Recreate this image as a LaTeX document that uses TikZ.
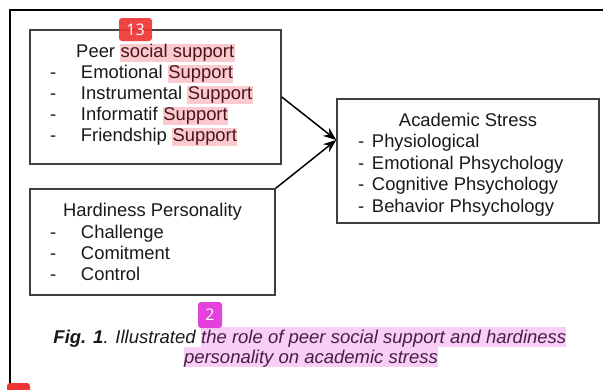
\documentclass[tikz,border=0pt]{standalone}
\usepackage{fontspec}
\setmainfont{Liberation Sans}
\newfontfamily\badgefont{Open Sans}
\usepackage{xcolor}
\usepackage{array}
\usetikzlibrary{arrows.meta, positioning, calc}

\definecolor{hlpink}{RGB}{250,202,206}
\definecolor{hlmag}{RGB}{248,206,247}
\definecolor{hlredtext}{RGB}{75,20,25}
\definecolor{hlmagtext}{RGB}{70,30,70}
\definecolor{badgered}{RGB}{240,52,52}
\definecolor{badgemag}{RGB}{228,64,220}

\newcommand{\hlsup}[1]{{\setlength{\fboxsep}{0.5pt}\colorbox{hlpink}{\textcolor{hlredtext}{#1}}}}
\newcommand{\shiftbox}[2]{\raisebox{#1}[\height][\depth]{#2}}

\begin{document}
\begin{tikzpicture}[
    x=1pt, y=-1pt,
    box/.style={rectangle, draw=black!75, line width=1.5pt, inner sep=0pt, text=black!90, font=\fontsize{18.4}{21}\selectfont},
    arrow/.style={-{Stealth[length=13pt, width=10pt]}, line width=1.5pt},
    capt/.style={inner sep=0pt, text=black!90, font=\fontsize{18.5}{20}\selectfont\itshape},
    hlcap/.style={fill=hlmag, text=hlmagtext, text height=16.5pt, text depth=4pt},
    badge/.style={rounded corners=3pt, text=white, inner sep=0pt, font=\badgefont\fontsize{16}{16}\selectfont}
]
\useasboundingbox (0,0) rectangle (603,389);

% Page frame
\draw[line width=1.4pt] (10,389) -- (10,10) -- (603,10);

% Variables
\node[box, minimum width=251pt, minimum height=134pt] (peer) at (155.5,97) {%
  \shiftbox{1.5pt}{\begin{tabular}{@{}p{31pt}@{}p{180pt}@{}}
  \multicolumn{2}{c}{Peer \hlsup{social support}}\\
  - & Emotional \hlsup{Support}\\
  - & Instrumental \hlsup{Support}\\
  - & Informatif \hlsup{Support}\\
  - & Friendship \hlsup{Support}
  \end{tabular}}};
\node[box, minimum width=245pt, minimum height=106pt, font=\fontsize{18.4}{21.3}\selectfont] (hardy) at (152.5,242) {%
  \shiftbox{-2.5pt}{\begin{tabular}{@{}p{31pt}@{}p{174pt}@{}}
  \multicolumn{2}{c}{Hardiness Personality}\\
  - & Challenge\\
  - & Comitment\\
  - & Control
  \end{tabular}}};
\node[box, minimum width=262pt, minimum height=124pt, font=\fontsize{18.4}{21.6}\selectfont] (stress) at (468,161) {%
  \shiftbox{-4pt}{\begin{tabular}{@{}p{14pt}@{}p{206pt}@{}}
  \multicolumn{2}{c}{Academic Stress}\\
  - & Physiological\\
  - & Emotional Phsychology\\
  - & Cognitive Phsychology\\
  - & Behavior Phsychology
  \end{tabular}}};

% Connections
\coordinate (meet) at ([yshift=21pt]stress.west);
\draw[arrow] (peer.east) -- (meet);
\draw[arrow] (hardy.north east) -- (meet);

% Caption
\node[capt, hlcap, anchor=base west] (caprole) at (201,343) {the role of peer social support and hardiness};
\node[capt, anchor=base east] (capfig) at ([xshift=-5.1pt]caprole.base west) {\textbf{Fig. 1}. Illustrated};
\node[capt, hlcap, anchor=base] (capstress) at (311,363) {personality on academic stress};

% Badges
\node[badge, fill=badgered, fill opacity=0.92, text opacity=1, minimum width=33pt, minimum height=23pt] (badgea) at (135.5,29.5) {13};
\node[badge, fill=badgemag, minimum width=24pt, minimum height=26pt] (badgeb) at (210,315) {2};
\node[badge, fill=badgered, minimum width=23pt, minimum height=24pt] (badgec) at (18.5,395) {};

\end{tikzpicture}
\end{document}
